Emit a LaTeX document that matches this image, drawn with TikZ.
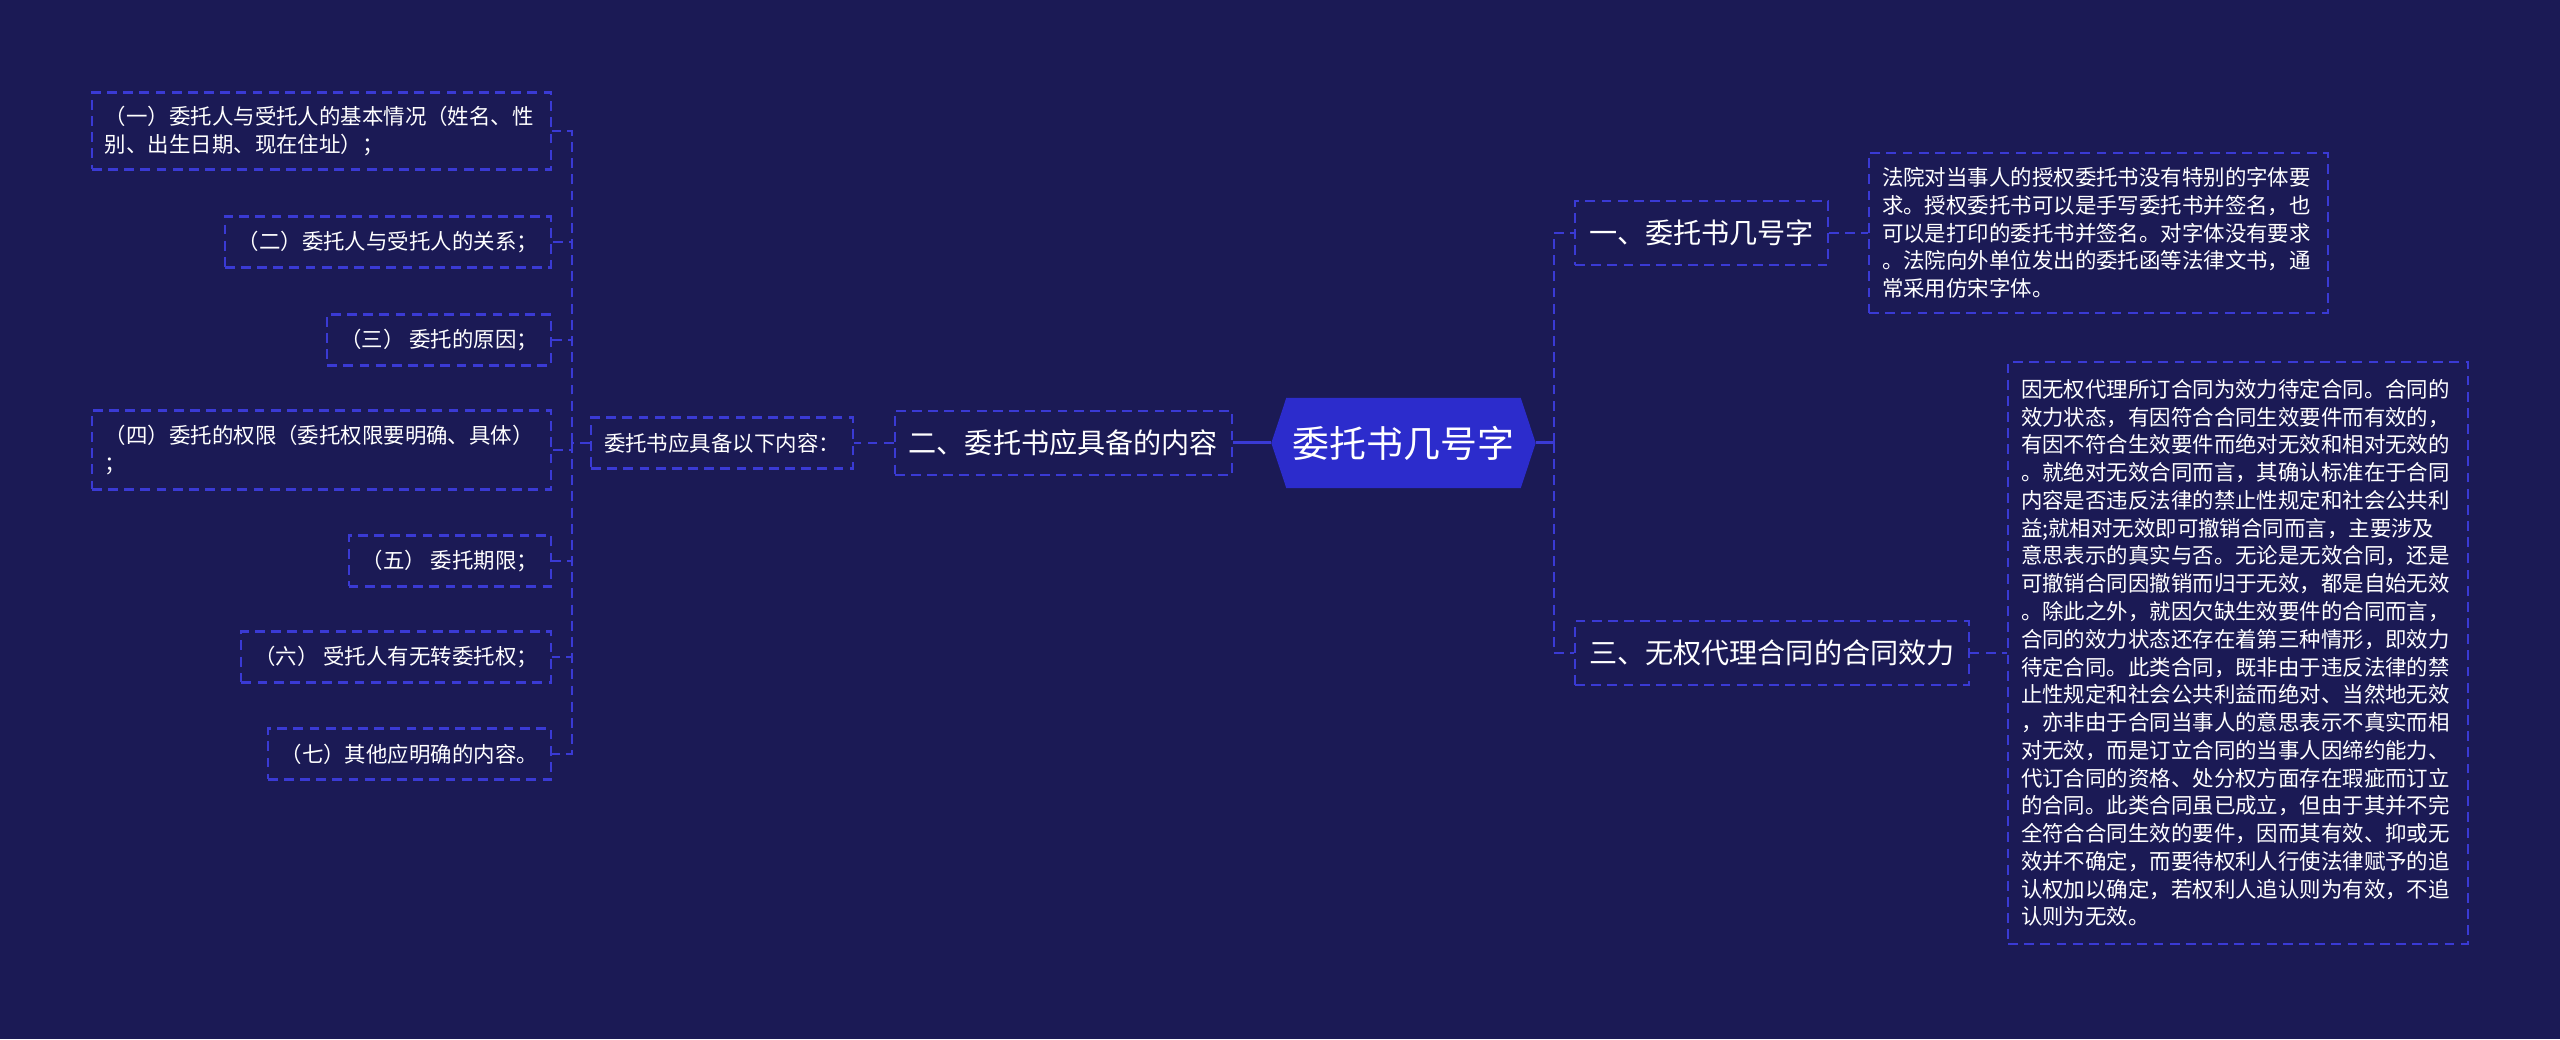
\documentclass[tikz,border=0pt]{standalone}
\usepackage{fontspec}
\setmainfont{Noto Sans CJK SC}
\usetikzlibrary{backgrounds}

\definecolor{pagebg}{RGB}{27,26,85}
\definecolor{linkblue}{RGB}{58,58,212}
\definecolor{rootblue}{RGB}{44,44,204}

\begin{document}
\begin{tikzpicture}[
        link/.style={draw=linkblue, line width=0.6pt, dash pattern=on 2.8pt off 1.8pt},
        trunk/.style={draw=linkblue, line width=0.85pt},
        box/.style={link, text=white, inner xsep=0.13cm, inner ysep=0.05cm},
        leaf/.style={box, font=\fontsize{6.1pt}{7.9pt}\selectfont, minimum height=0.51cm},
        para/.style={leaf, text width=4.33cm, align=left},
        topic/.style={box, font=\fontsize{8pt}{9.6pt}\selectfont, minimum height=0.64cm, inner xsep=0.14cm},
        centre/.style={text=white, font=\fontsize{10.5pt}{12.6pt}\selectfont, minimum width=2.63cm, minimum height=0.89cm}
    ]
        \useasboundingbox (0,0) rectangle (25.6,10.39);

        % centre and first level
        \node[centre] (root) at (14.035,5.96) {委托书几号字};
        \node[topic, anchor=west] (t1) at (15.74,8.06) {一、委托书几号字};
        \node[topic, anchor=east] (t2) at (12.33,5.96) {二、委托书应具备的内容};
        \node[topic, anchor=west] (t3) at (15.74,3.86) {三、无权代理合同的合同效力};

        % right hand notes
        \node[para, anchor=west, minimum height=1.60cm] (t1note) at (18.68,8.06) {法院对当事人的授权委托书没有特别的字体要\\求。授权委托书可以是手写委托书并签名，也\\可以是打印的委托书并签名。对字体没有要求\\。法院向外单位发出的委托函等法律文书，通\\常采用仿宋字体。};
        \node[para, anchor=west, text width=4.34cm, minimum height=5.82cm] (t3note) at (20.07,3.86) {因无权代理所订合同为效力待定合同。合同的\\效力状态，有因符合合同生效要件而有效的，\\有因不符合生效要件而绝对无效和相对无效的\\。就绝对无效合同而言，其确认标准在于合同\\内容是否违反法律的禁止性规定和社会公共利\\益;就相对无效即可撤销合同而言，主要涉及\\意思表示的真实与否。无论是无效合同，还是\\可撤销合同因撤销而归于无效，都是自始无效\\。除此之外，就因欠缺生效要件的合同而言，\\合同的效力状态还存在着第三种情形，即效力\\待定合同。此类合同，既非由于违反法律的禁\\止性规定和社会公共利益而绝对、当然地无效\\，亦非由于合同当事人的意思表示不真实而相\\对无效，而是订立合同的当事人因缔约能力、\\代订合同的资格、处分权方面存在瑕疵而订立\\的合同。此类合同虽已成立，但由于其并不完\\全符合合同生效的要件，因而其有效、抑或无\\效并不确定，而要待权利人行使法律赋予的追\\认权加以确定，若权利人追认则为有效，不追\\认则为无效。};

        % left hand items
        \node[leaf, anchor=east] (intro) at (8.54,5.96) {委托书应具备以下内容：};
        \node[para, anchor=east, minimum height=0.77cm] (i1) at (5.52,9.08) {（一）委托人与受托人的基本情况（姓名、性\\别、出生日期、现在住址）；};
        \node[leaf, anchor=east] (i2) at (5.52,7.97) {（二）委托人与受托人的关系；};
        \node[leaf, anchor=east] (i3) at (5.52,6.99) {（三） 委托的原因；};
        \node[para, anchor=east, minimum height=0.79cm] (i4) at (5.52,5.89) {（四）委托的权限（委托权限要明确、具体）\\；};
        \node[leaf, anchor=east] (i5) at (5.52,4.78) {（五） 委托期限；};
        \node[leaf, anchor=east] (i6) at (5.52,3.82) {（六） 受托人有无转委托权；};
        \node[leaf, anchor=east] (i7) at (5.52,2.85) {（七）其他应明确的内容。};

        \coordinate (ljoin) at (5.72,5.96);
        \coordinate (rjoin) at (15.54,5.96);

        % connectors
        \draw[trunk] (t2.east) -- (root.west);
        \draw[trunk] (root.east) -- (rjoin);
        \foreach \n in {t1,t3}
            \draw[link] (rjoin) |- (\n.west);
        \draw[link] (t1.east) -- (t1note.west);
        \draw[link] (t3.east) -- (t3note.west);
        \draw[link] (t2.west) -- (intro.east);
        \draw[link] (intro.west) -- (ljoin);
        \foreach \k in {1,...,7}
            \draw[link] (ljoin) |- (i\k.east);

        \begin{scope}[on background layer]
            \fill[pagebg] (0,0) rectangle (25.6,10.39);
            \fill[rootblue] (root.west) -- ([xshift=0.15cm]root.north west) -- ([xshift=-0.15cm]root.north east)
                -- (root.east) -- ([xshift=-0.15cm]root.south east) -- ([xshift=0.15cm]root.south west) -- cycle;
        \end{scope}
    \end{tikzpicture}
\end{document}
